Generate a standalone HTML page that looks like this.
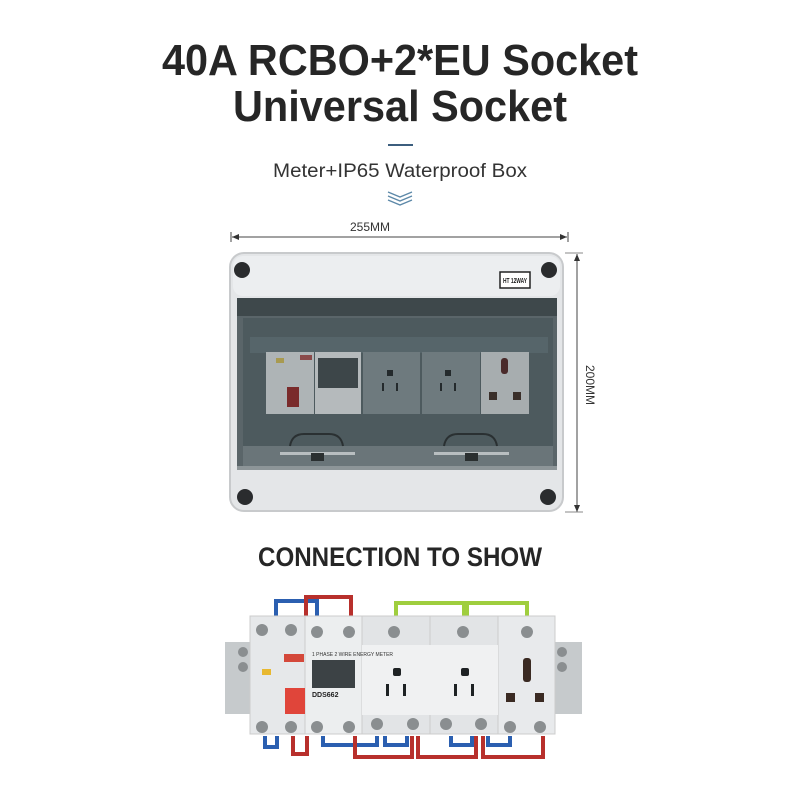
<!DOCTYPE html>
<html><head><meta charset="utf-8"><style>
html,body{margin:0;padding:0;background:#fff;width:800px;height:800px;overflow:hidden}
svg{display:block}
</style></head><body>
<svg width="800" height="800" viewBox="0 0 800 800" xmlns="http://www.w3.org/2000/svg" font-family="Liberation Sans, sans-serif">
<rect width="800" height="800" fill="#fff"/>
<text x="400" y="75" text-anchor="middle" font-size="44" font-weight="bold" fill="#262626" textLength="476" lengthAdjust="spacingAndGlyphs">40A RCBO+2*EU Socket</text>
<text x="400" y="121" text-anchor="middle" font-size="44" font-weight="bold" fill="#262626" textLength="334" lengthAdjust="spacingAndGlyphs">Universal Socket</text>
<rect x="388" y="144" width="25" height="2" fill="#3c5e7e"/>
<text x="400" y="177" text-anchor="middle" font-size="19" fill="#333" textLength="254" lengthAdjust="spacingAndGlyphs">Meter+IP65 Waterproof Box</text>
<g fill="none" stroke="#5c88a8" stroke-width="1.3">
<path d="M388 192 L400 197 L412 192"/><path d="M388 196 L400 201 L412 196"/><path d="M388 200 L400 205 L412 200"/>
</g>
<text x="370" y="231" text-anchor="middle" font-size="12" fill="#333">255MM</text>
<line x1="232" y1="237" x2="567" y2="237" stroke="#444" stroke-width="1"/>
<path d="M232 237 l7 -3 v6z M567 237 l-7 -3 v6z" fill="#333"/>
<line x1="231" y1="232" x2="231" y2="242" stroke="#444"/>
<line x1="568" y1="232" x2="568" y2="242" stroke="#444"/>
<line x1="577" y1="254" x2="577" y2="512" stroke="#444"/>
<line x1="565" y1="253" x2="583" y2="253" stroke="#888"/>
<line x1="565" y1="512" x2="583" y2="512" stroke="#888"/>
<path d="M577 254 l-3 7 h6z M577 512 l-3 -7 h6z" fill="#333"/>
<text transform="translate(586,385) rotate(90)" text-anchor="middle" font-size="12" fill="#333">200MM</text>
<rect x="230" y="253" width="333" height="258" rx="14" fill="#e4e6e8" stroke="#c8cacc" stroke-width="2"/>
<rect x="233" y="256" width="327" height="40" rx="10" fill="#eceef0"/>
<g fill="#2a2c2e"><circle cx="242" cy="270" r="8"/><circle cx="549" cy="270" r="8"/><circle cx="245" cy="497" r="8"/><circle cx="548" cy="497" r="8"/></g>
<rect x="500" y="272" width="30" height="16" fill="#fff" stroke="#222" stroke-width="1.5"/>
<text x="515" y="283" text-anchor="middle" font-size="7" font-weight="bold" fill="#222" textLength="24" lengthAdjust="spacingAndGlyphs">HT 12WAY</text>
<rect x="237" y="298" width="320" height="170" fill="#5a6569"/>
<rect x="237" y="298" width="320" height="18" fill="#3e484b"/>
<rect x="243" y="318" width="310" height="128" fill="#4d5a5e"/>
<rect x="250" y="337" width="298" height="16" fill="#56656a"/>
<rect x="243" y="446" width="310" height="20" fill="#6a7579"/>
<rect x="237" y="466" width="320" height="4" fill="#8d9598"/>
<rect x="266" y="352" width="48" height="62" fill="#aeb4b6"/>
<rect x="300" y="355" width="12" height="5" fill="#8a4a4a"/>
<rect x="287" y="387" width="12" height="20" fill="#7a2b2b"/>
<rect x="276" y="358" width="8" height="5" fill="#a89a50"/>
<rect x="315" y="352" width="46" height="62" fill="#b5babc"/>
<rect x="318" y="358" width="40" height="30" fill="#3d4649"/>
<rect x="363" y="352" width="57" height="62" fill="#6e7a7e"/>
<rect x="422" y="352" width="58" height="62" fill="#6e7a7e"/>
<rect x="481" y="352" width="48" height="62" fill="#a7adaf"/>
<g fill="#242a2c">
<rect x="387" y="370" width="6" height="6"/><rect x="382" y="383" width="2" height="8"/><rect x="396" y="383" width="2" height="8"/>
<rect x="445" y="370" width="6" height="6"/><rect x="440" y="383" width="2" height="8"/><rect x="454" y="383" width="2" height="8"/>
</g>
<rect x="501" y="358" width="7" height="16" rx="3" fill="#4a2a2a"/>
<rect x="489" y="392" width="8" height="8" fill="#3a2f2a"/><rect x="513" y="392" width="8" height="8" fill="#3a2f2a"/>
<g fill="none" stroke="#2a3032" stroke-width="2"><path d="M290 446 q2 -12 14 -12 h25 q12 0 14 12"/><path d="M444 446 q2 -12 14 -12 h25 q12 0 14 12"/></g>
<rect x="280" y="452" width="75" height="3" fill="#b8bec0"/><rect x="434" y="452" width="75" height="3" fill="#b8bec0"/>
<rect x="311" y="453" width="13" height="8" fill="#2a2f30"/><rect x="465" y="453" width="13" height="8" fill="#2a2f30"/>
<text x="400" y="566" text-anchor="middle" font-size="27" font-weight="bold" fill="#262626" textLength="284" lengthAdjust="spacingAndGlyphs">CONNECTION TO SHOW</text>
<rect x="225" y="642" width="28" height="72" fill="#c6cacc"/>
<rect x="552" y="642" width="30" height="72" fill="#c6cacc"/>
<g fill="none" stroke-width="4">
<path d="M276 617 V601 H317 V617" stroke="#2b5fb0"/>
<path d="M306 617 V597 H351 V617" stroke="#b8302c"/>
<path d="M396 617 V603 H464 V617" stroke="#9fce3e"/>
<path d="M467 617 V603 H527 V617" stroke="#9fce3e"/>
</g>
<rect x="250" y="616" width="55" height="118" fill="#e6e8ea" stroke="#ccc"/>
<rect x="305" y="616" width="57" height="118" fill="#eceeef" stroke="#ccc"/>
<rect x="362" y="616" width="68" height="118" fill="#e2e4e6" stroke="#ccc"/>
<rect x="430" y="616" width="68" height="118" fill="#e2e4e6" stroke="#ccc"/>
<rect x="498" y="616" width="57" height="118" fill="#e8eaec" stroke="#ccc"/>
<rect x="362" y="645" width="136" height="70" fill="#f0f1f2"/>
<rect x="312" y="660" width="43" height="28" fill="#3c4245"/>
<rect x="284" y="654" width="20" height="8" fill="#d4483a"/>
<rect x="285" y="688" width="20" height="26" fill="#e0453a"/>
<rect x="262" y="669" width="9" height="6" fill="#e8b830"/>
<text x="312" y="656" font-size="5" fill="#333">1 PHASE 2 WIRE ENERGY METER</text>
<text x="312" y="697" font-size="7" font-weight="bold" fill="#222">DDS662</text>
<g fill="#8a8e90"><circle cx="262" cy="630" r="6"/><circle cx="291" cy="630" r="6"/><circle cx="317" cy="632" r="6"/><circle cx="349" cy="632" r="6"/><circle cx="394" cy="632" r="6"/><circle cx="463" cy="632" r="6"/><circle cx="527" cy="632" r="6"/>
<circle cx="262" cy="727" r="6"/><circle cx="291" cy="727" r="6"/><circle cx="317" cy="727" r="6"/><circle cx="349" cy="727" r="6"/><circle cx="377" cy="724" r="6"/><circle cx="413" cy="724" r="6"/><circle cx="446" cy="724" r="6"/><circle cx="481" cy="724" r="6"/><circle cx="510" cy="727" r="6"/><circle cx="540" cy="727" r="6"/>
<circle cx="243" cy="652" r="5"/><circle cx="243" cy="667" r="5"/><circle cx="562" cy="652" r="5"/><circle cx="562" cy="667" r="5"/></g>
<g fill="#1e2224">
<rect x="393" y="668" width="8" height="8" rx="2"/><rect x="386" y="684" width="3" height="12"/><rect x="403" y="684" width="3" height="12"/>
<rect x="461" y="668" width="8" height="8" rx="2"/><rect x="454" y="684" width="3" height="12"/><rect x="471" y="684" width="3" height="12"/>
</g>
<rect x="523" y="658" width="8" height="24" rx="3" fill="#3a2a22"/>
<rect x="506" y="693" width="9" height="9" fill="#3a2a22"/><rect x="535" y="693" width="9" height="9" fill="#3a2a22"/>
<g fill="none" stroke-width="4">
<path d="M265 736 V747 H277 V736" stroke="#2b5fb0"/>
<path d="M293 736 V754 H307 V736" stroke="#b8302c"/>
<path d="M323 736 V745 H377 V736" stroke="#2b5fb0"/>
<path d="M385 736 V745 H407 V736" stroke="#2b5fb0"/>
<path d="M451 736 V745 H472 V736" stroke="#2b5fb0"/>
<path d="M488 736 V745 H510 V736" stroke="#2b5fb0"/>
<path d="M355 736 V757 H412 V736" stroke="#b8302c"/>
<path d="M418 736 V757 H476 V736" stroke="#b8302c"/>
<path d="M483 736 V757 H543 V736" stroke="#b8302c"/>
</g>
</svg>
</body></html>
